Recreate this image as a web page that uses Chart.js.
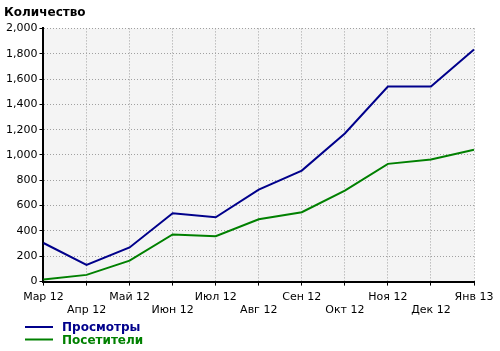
<!DOCTYPE html>
<html><head><meta charset="utf-8">
<script src="https://cdn.jsdelivr.net/npm/chart.js@4/dist/chart.umd.min.js"></script>
<style>html,body{margin:0;padding:0;background:#fff}#w{width:500px;height:351px}</style>
</head><body><div id="w"><canvas id="c" width="500" height="351"></canvas></div>
<script>
const categories = ['Мар 12','Апр 12','Май 12','Июн 12','Июл 12','Авг 12','Сен 12','Окт 12','Ноя 12','Дек 12','Янв 13'];
const views = [305, 132, 270, 540, 508, 727, 877, 1170, 1541, 1541, 1834];
const visitors = [16, 53, 166, 372, 358, 492, 548, 719, 930, 964, 1041];
const seriesNames = ['Просмотры', 'Посетители'];
const seriesColors = ['#00008b', '#008000'];
const yTitle = 'Количество';

const FONT = '"DejaVu Sans", Tahoma, sans-serif';
const labels = categories.map((c, i) => i % 2 === 0 ? c : ['', c]);

const bgPlugin = {
  id: 'bg',
  beforeDraw(chart) {
    const a = chart.chartArea, ctx = chart.ctx;
    ctx.save(); ctx.fillStyle = '#f4f4f4';
    ctx.fillRect(a.left, a.top, a.right - a.left, a.bottom - a.top);
    ctx.restore();
  }
};
const legendPlugin = {
  id: 'legendBox',
  afterDraw(chart) {
    const ctx = chart.ctx;
    ctx.save();
    seriesNames.forEach((n, i) => {
      const y = 327 + i * 12.5;
      ctx.strokeStyle = seriesColors[i]; ctx.lineWidth = 2;
      ctx.beginPath(); ctx.moveTo(25, y); ctx.lineTo(53, y); ctx.stroke();
      ctx.fillStyle = seriesColors[i];
      ctx.font = 'bold 12px ' + FONT;
      ctx.textBaseline = 'middle';
      ctx.fillText(n, 62, y + 1);
    });
    ctx.restore();
  }
};

new Chart(document.getElementById('c'), {
  type: 'line',
  data: {
    labels: labels,
    datasets: [
      { label: seriesNames[0], data: views, borderColor: seriesColors[0], borderWidth: 2, pointRadius: 0, tension: 0, fill: false },
      { label: seriesNames[1], data: visitors, borderColor: seriesColors[1], borderWidth: 2, pointRadius: 0, tension: 0, fill: false }
    ]
  },
  options: {
    responsive: false,
    animation: false,
    devicePixelRatio: 1,
    layout: { padding: { left: 4, right: 26, top: 2, bottom: 29 } },
    plugins: {
      legend: { display: false },
      tooltip: { enabled: false },
      title: { display: true, text: yTitle, align: 'start', color: '#000', font: { family: FONT, size: 12, weight: 'bold' }, padding: { top: 4, bottom: 8 } }
    },
    scales: {
      x: {
        offset: false,
        grid: { color: '#a0a0a0', tickColor: '#000', tickLength: 4, drawOnChartArea: true, tickBorderDash: [] },
        border: { display: true, color: '#000', width: 2, dash: [1, 2] },
        ticks: { color: '#000', font: { family: FONT, size: 11 }, maxRotation: 0, autoSkip: false, padding: 5 }
      },
      y: {
        min: 0, max: 2000,
        grid: { color: '#a0a0a0', tickColor: '#000', tickLength: 4, tickBorderDash: [] },
        border: { display: true, color: '#000', width: 2, dash: [1, 2] },
        ticks: { stepSize: 200, color: '#000', font: { family: FONT, size: 11 }, padding: 2,
          callback: v => v.toLocaleString('en-US') }
      }
    }
  },
  plugins: [bgPlugin, legendPlugin]
});
</script></body></html>
